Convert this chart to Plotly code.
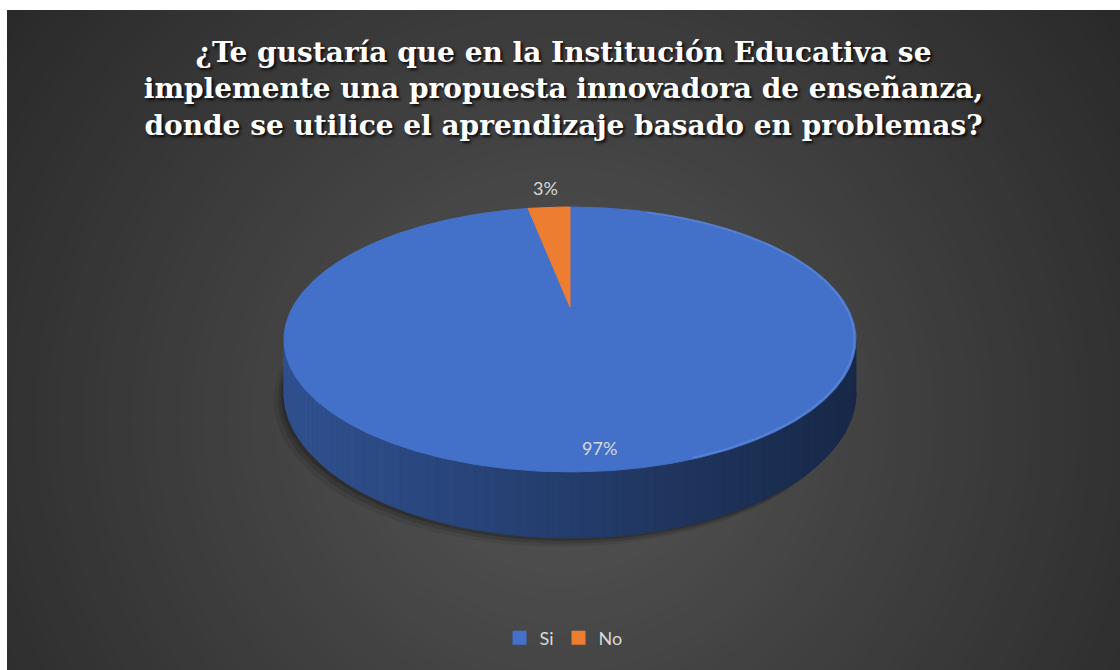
import numpy as np
import plotly.graph_objects as go

# ---- data ----
categories = ["Si", "No"]
values = [97, 3]
slice_colors = ["#4371C9", "#ED7D31"]
title_lines = [
    "¿Te gustaría que en la Institución Educativa se",
    "implemente una propuesta innovadora de enseñanza,",
    "donde se utilice el aprendizaje basado en problemas?",
]

# ---- layout geometry (pixel space) ----
W, H = 1120, 670
X0, Y0 = 7, 10                     # white border left/top
CX, CY = 570.0, 307.0              # projected pie centre
A, B, K = 277.3, 124.5, 0.245      # perspective ellipse parameters
DEPTH = 49.8


def proj(theta_deg, r=1.0):
    t = np.radians(theta_deg)
    u = r * np.sin(t)
    v = -r * np.cos(t)
    w = 1 - K * v
    return CX + A * u / w, CY + B * v / w, w


def hex_rgb(h):
    h = h.lstrip("#")
    return tuple(int(h[i:i + 2], 16) for i in (0, 2, 4))


def shade(h, f):
    r, g, b = hex_rgb(h)
    return "rgb(%d,%d,%d)" % (r * f, g * f, b * f)


fig = go.Figure()

# background radial gradient via concentric circles
shapes = []
GX, GY = 563, 420
for r in range(720, 0, -12):
    c = int(round(85 - 0.063 * max(r - 6, 0)))
    shapes.append(dict(type="circle", xref="x", yref="y", layer="below",
                       x0=GX - r, x1=GX + r, y0=GY - r, y1=GY + r,
                       fillcolor="rgb(%d,%d,%d)" % (c, c, c), line=dict(width=0)))

total = float(sum(values))
bounds = np.concatenate([[0], np.cumsum(values)]) / total * 360.0

# shadow under the pie
th = np.linspace(0, 360, 241)
bx, by, bw = proj(th)
by = by + DEPTH / bw
for off, op in [((-10, 9), 0.08), ((-6, 6), 0.12), ((-3, 3), 0.18)]:
    fig.add_trace(go.Scatter(x=bx + off[0], y=by + off[1], fill="toself", mode="lines",
                             line=dict(width=0), fillcolor="rgba(0,0,0,%.2f)" % op,
                             hoverinfo="skip", showlegend=False))

# side wall (front half) in vertical strips
t_lo, t_hi = 104.2, 255.8
N = 90
edges = np.linspace(t_lo, t_hi, N + 1)
xl, _, _ = proj(t_hi)
xr, _, _ = proj(t_lo)
for i in range(N):
    a0, a1 = edges[i], edges[i + 1]
    mid = (a0 + a1) / 2
    k = int(np.searchsorted(bounds, mid) - 1)
    k = min(max(k, 0), len(values) - 1)
    ts = np.linspace(a0, a1, 4)
    tx, ty, tw = proj(ts)
    bxs, bys = tx[::-1], (ty + DEPTH / tw)[::-1]
    mx, _, _ = proj(mid)
    frac = (mx - xl) / (xr - xl)
    f = 0.72 - 0.36 * frac
    col = shade(slice_colors[k], f)
    fig.add_trace(go.Scatter(x=np.concatenate([tx, bxs]), y=np.concatenate([ty, bys]),
                             fill="toself", mode="lines", line=dict(width=1, color=col),
                             fillcolor=col, hoverinfo="skip", showlegend=False))

# top faces
for i, (cat, val) in enumerate(zip(categories, values)):
    ts = np.linspace(bounds[i], bounds[i + 1], max(int((bounds[i + 1] - bounds[i]) * 2), 8))
    tx, ty, _ = proj(ts)
    xs = np.concatenate([[CX], tx, [CX]])
    ys = np.concatenate([[CY], ty, [CY]])
    fig.add_trace(go.Scatter(x=xs, y=ys, fill="toself", mode="lines",
                             line=dict(width=1, color=slice_colors[i]),
                             fillcolor=slice_colors[i], hoverinfo="skip", showlegend=False))

# subtle rim highlight
rx, ry, _ = proj(np.linspace(20, 160, 80), 0.995)
fig.add_trace(go.Scatter(x=rx, y=ry, mode="lines", line=dict(width=2, color="rgba(120,160,235,0.35)"),
                         hoverinfo="skip", showlegend=False))

# legend entries
for cat, col in zip(categories, slice_colors):
    fig.add_trace(go.Scatter(x=[None], y=[None], mode="markers", name=cat,
                             marker=dict(symbol="square", size=14, color=col)))

# data labels
annotations = []
for i, val in enumerate(values):
    mid = (bounds[i] + bounds[i + 1]) / 2
    pct = val / total * 100
    r = 0.89 if pct >= 10 else 1.25
    lx, ly, _ = proj(mid, r)
    annotations.append(dict(x=lx, y=ly, xref="x", yref="y", text="%d%%" % round(pct),
                            showarrow=False, font=dict(family="Lato", size=18, color="#D9D9D9")))

fig.update_layout(
    width=W, height=H,
    margin=dict(l=X0, r=0, t=Y0, b=0),
    paper_bgcolor="white",
    plot_bgcolor="rgb(40,40,40)",
    shapes=shapes,
    annotations=annotations,
    title=dict(text="<br>".join(title_lines), x=0.5, xref="paper", xanchor="center",
               y=1 - 62 / H, yref="container", yanchor="middle",
               font=dict(family="DejaVu Serif", size=28, color="white", weight="bold",
                         shadow="2px 2px 3px rgba(0,0,0,0.85)")),
    xaxis=dict(range=[X0, W], visible=False, fixedrange=True),
    yaxis=dict(range=[H, Y0], visible=False, fixedrange=True),
    legend=dict(orientation="h", x=0.5, xanchor="center", y=(H - 638) / (H - Y0),
                yanchor="middle", font=dict(family="Lato", size=18, color="#D9D9D9"),
                bgcolor="rgba(0,0,0,0)", itemclick=False, itemdoubleclick=False),
    showlegend=True,
)

fig.write_html("out.html", config={"displayModeBar": False},
               post_script="document.body.style.margin='0';document.body.style.overflow='hidden';")
